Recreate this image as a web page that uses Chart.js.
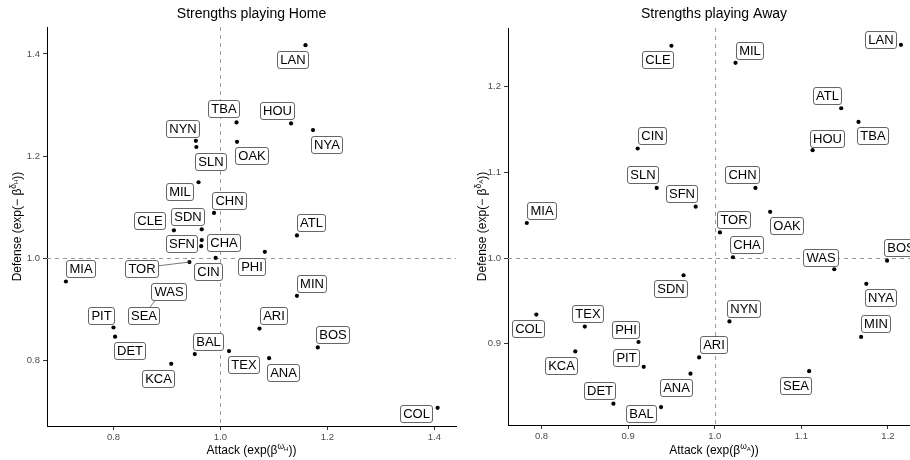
<!DOCTYPE html>
<html>
<head>
<meta charset="utf-8">
<script src="https://cdn.jsdelivr.net/npm/chart.js@4.4.1/dist/chart.umd.min.js"></script>
<style>
  html, body { margin: 0; padding: 0; background: #fff; }
  body { width: 910px; height: 460px; overflow: hidden; position: relative; }
  .panel { position: absolute; top: 0; }
</style>
</head>
<body>
<div class="panel" style="left:0"><canvas id="homeChart" width="460" height="460"></canvas></div>
<div class="panel" style="left:455px"><canvas id="awayChart" width="470" height="460"></canvas></div>
<script>
// teams, same order in every array below
const teams = ['ANA', 'ARI', 'ATL', 'BAL', 'BOS', 'CHA', 'CHN', 'CIN', 'CLE', 'COL',
  'DET', 'HOU', 'KCA', 'LAN', 'MIA', 'MIL', 'MIN', 'NYA', 'NYN', 'OAK',
  'PHI', 'PIT', 'SDN', 'SEA', 'SFN', 'SLN', 'TBA', 'TEX', 'TOR', 'WAS'];

// playing home
const homeAttack = [1.091, 1.073, 1.143, 0.952, 1.182, 0.965, 0.988, 0.991, 0.913, 1.406,
  0.803, 1.132, 0.908, 1.159, 0.711, 0.959, 1.143, 1.173, 0.954, 1.031,
  1.083, 0.800, 0.965, 0.888, 0.964, 0.955, 1.030, 1.016, 0.942, 0.916];
const homeDefense = [0.805, 0.863, 1.045, 0.813, 0.826, 1.036, 1.089, 1.001, 1.055, 0.708,
  0.847, 1.264, 0.794, 1.417, 0.955, 1.149, 0.927, 1.251, 1.230, 1.228,
  1.013, 0.865, 1.057, 0.932, 1.024, 1.218, 1.266, 0.819, 0.993, 0.948];

// playing away
const awayAttack = [0.972, 0.982, 1.146, 0.938, 1.199, 1.021, 1.047, 0.911, 0.950, 0.794,
  0.883, 1.113, 0.839, 1.215, 0.783, 1.024, 1.169, 1.175, 1.017, 1.064,
  0.912, 0.918, 0.964, 1.109, 0.978, 0.933, 1.166, 0.850, 1.006, 1.138];
const awayDefense = [0.865, 0.884, 1.175, 0.826, 0.997, 1.001, 1.082, 1.128, 1.248, 0.934,
  0.830, 1.126, 0.891, 1.249, 1.041, 1.228, 0.908, 0.970, 0.926, 1.054,
  0.902, 0.873, 0.980, 0.868, 1.060, 1.082, 1.159, 0.920, 1.030, 0.987];

const homeXTicks = [0.8, 1.0, 1.2, 1.4];
const homeYTicks = [0.8, 1.0, 1.2, 1.4];
const awayXTicks = [0.8, 0.9, 1.0, 1.1, 1.2];
const awayYTicks = [0.9, 1.0, 1.1, 1.2];

// label placement (repel layout), pixel offsets of the label box centre from its point
const homeLabelOffset = [[14.2, 13.7], [14.1, -13.6], [14.2, -13.6], [13.6, -13], [14.7, -12.8],
  [21.6, 2], [14.3, -12.9], [-7.7, 13.7], [-25, -10], [-21.2, 5.9],
  [14.7, 13.8], [-13.5, -13.6], [-13.4, 14.1], [-13.2, 14.2], [14.3, -13],
  [-19.2, 9.4], [14.2, -12.7], [14, 14], [-13.6, -13], [14.3, 13.8],
  [-13.7, 14.6], [-12.4, -12.3], [-14, -13.2], [-16.7, 22.3], [-19.9, -2.6],
  [14, 14.3], [-13.3, -13.8], [14.3, 13.7], [-47.8, 5.8], [-7, 6.3]];
const awayLabelOffset = [[-14, 14], [14.3, -13.2], [-13.7, -13], [-19.8, 6.5], [13.5, -13.7],
  [13.7, -12.7], [-14, -13.3], [13.9, -12.8], [-13.7, 14], [-7.9, 13.8],
  [-13.7, -12.9], [14.5, -11.9], [-14.2, 13.5], [-20.5, -5.3], [14.4, -12.5],
  [14.5, -13], [14.2, -13.1], [14.2, 13.7], [13.8, -12.8], [16.3, 13.6],
  [-13.2, -12.7], [-18.4, -9.5], [-13.5, 13.1], [-13.1, 14], [-14.2, -13.1],
  [-13.9, -13.3], [14, 13.5], [2.7, -13], [13.8, -12.7], [-13.7, -12.1]];

const FONT = "'Liberation Sans', Arial, sans-serif";

function drawRich(ctx, parts, x, y) {
  // parts centred on x, baseline y
  let total = 0;
  parts.forEach(p => {
    ctx.font = p.s + 'px ' + FONT;
    p.w = ctx.measureText(p.t).width;
    total += p.w;
  });
  let cx = x - total / 2;
  ctx.textAlign = 'left';
  ctx.textBaseline = 'alphabetic';
  parts.forEach(p => {
    ctx.font = p.s + 'px ' + FONT;
    ctx.fillText(p.t, cx, y + p.dy);
    cx += p.w;
  });
}

function roundRect(ctx, x, y, w, h, r) {
  ctx.beginPath();
  ctx.moveTo(x + r, y);
  ctx.lineTo(x + w - r, y);
  ctx.arcTo(x + w, y, x + w, y + r, r);
  ctx.lineTo(x + w, y + h - r);
  ctx.arcTo(x + w, y + h, x + w - r, y + h, r);
  ctx.lineTo(x + r, y + h);
  ctx.arcTo(x, y + h, x, y + h - r, r);
  ctx.lineTo(x, y + r);
  ctx.arcTo(x, y, x + r, y, r);
  ctx.closePath();
}

const panelPlugin = {
  id: 'panelDecor',
  beforeDatasetsDraw(chart, args, opts) {
    const ctx = chart.ctx, a = chart.chartArea;
    const xs = chart.scales.x, ys = chart.scales.y;
    ctx.save();
    ctx.strokeStyle = '#9a9a9a';
    ctx.lineWidth = 1;
    ctx.setLineDash([4, 4]);
    const px = Math.round(xs.getPixelForValue(1)) + 0.5;
    const py = Math.round(ys.getPixelForValue(1)) + 0.5;
    ctx.beginPath();
    ctx.moveTo(px, a.top); ctx.lineTo(px, a.bottom);
    ctx.moveTo(a.left, py); ctx.lineTo(a.right, py);
    ctx.stroke();
    ctx.restore();
  },
  afterDatasetsDraw(chart, args, opts) {
    const ctx = chart.ctx, a = chart.chartArea;
    const meta = chart.getDatasetMeta(0);
    const offs = opts.offsets;
    ctx.save();
    ctx.font = '13px ' + FONT;
    const boxes = meta.data.map((pt, i) => {
      const w = ctx.measureText(teams[i]).width + 5.4;
      const h = 16.6;
      const cx = pt.x + offs[i][0], cy = pt.y + offs[i][1];
      return { x: cx - w / 2, y: cy - h / 2, w, h, cx, cy, px: pt.x, py: pt.y, t: teams[i] };
    });
    // leader segments for labels pushed far from their point
    ctx.strokeStyle = '#555';
    ctx.lineWidth = 0.8;
    boxes.forEach(b => {
      const dx = Math.max(b.x - b.px, 0, b.px - (b.x + b.w));
      const dy = Math.max(b.y - b.py, 0, b.py - (b.y + b.h));
      if (Math.hypot(dx, dy) > 12) {
        ctx.beginPath();
        ctx.moveTo(b.cx, b.cy);
        ctx.lineTo(b.px, b.py);
        ctx.stroke();
      }
    });
    boxes.forEach(b => {
      const x = Math.round(b.x) + 0.5, y = Math.round(b.y) + 0.5;
      roundRect(ctx, x, y, Math.round(b.w), Math.round(b.h), 2.5);
      ctx.fillStyle = '#fff';
      ctx.fill();
      ctx.strokeStyle = '#555';
      ctx.lineWidth = 0.9;
      ctx.stroke();
      ctx.fillStyle = '#000';
      ctx.textAlign = 'center';
      ctx.textBaseline = 'middle';
      ctx.fillText(b.t, x + Math.round(b.w) / 2, y + Math.round(b.h) / 2 + 0.5);
    });
    // title and axis titles
    const mid = (a.left + a.right) / 2;
    const midY = (a.top + a.bottom) / 2;
    ctx.fillStyle = '#000';
    ctx.font = '14px ' + FONT;
    ctx.textAlign = 'center';
    ctx.textBaseline = 'middle';
    ctx.fillText(opts.title, mid, 14);
    drawRich(ctx, [
      { t: 'Attack (exp(\u03b2', s: 12, dy: 0 },
      { t: '\u03c9', s: 8.5, dy: -5 },
      { t: opts.side, s: 6, dy: -3.5 },
      { t: '))', s: 12, dy: 0 }
    ], mid, 454);
    ctx.save();
    ctx.translate(opts.yTitleX, midY);
    ctx.rotate(-Math.PI / 2);
    drawRich(ctx, [
      { t: 'Defense (exp(\u2212 \u03b2', s: 12, dy: 0 },
      { t: '\u03b4', s: 8.5, dy: -5 },
      { t: opts.side, s: 6, dy: -3.5 },
      { t: '))', s: 12, dy: 0 }
    ], 0, 4);
    ctx.restore();
    ctx.restore();
  }
};

function makePanel(canvasId, xs, ys, cfg) {
  const ctx = document.getElementById(canvasId).getContext('2d');
  return new Chart(ctx, {
    type: 'scatter',
    data: {
      datasets: [{
        data: xs.map((v, i) => ({ x: v, y: ys[i] })),
        backgroundColor: '#000',
        borderWidth: 0,
        pointRadius: 2.1,
      }]
    },
    options: {
      responsive: false,
      animation: false,
      devicePixelRatio: 1,
      layout: { padding: { left: 0, right: cfg.padRight, top: cfg.top, bottom: 0 } },
      plugins: {
        legend: { display: false },
        tooltip: { enabled: false },
        panelDecor: { title: cfg.title, side: cfg.side, offsets: cfg.offsets, yTitleX: cfg.yTitleX }
      },
      scales: {
        x: {
          type: 'linear',
          min: cfg.xMin, max: cfg.xMax,
          afterFit: s => { s.height = cfg.xAxisH; },
          afterBuildTicks: s => { s.ticks = cfg.xTicks.map(v => ({ value: v })); },
          grid: { drawOnChartArea: false, color: '#333', tickLength: 4 },
          border: { display: true, color: '#000', width: 1 },
          ticks: { color: '#4d4d4d', font: { family: FONT, size: 9.5 }, padding: 2, callback: v => v.toFixed(1) }
        },
        y: {
          type: 'linear',
          min: cfg.yMin, max: cfg.yMax,
          afterFit: s => { s.width = cfg.yAxisW; },
          afterBuildTicks: s => { s.ticks = cfg.yTicks.map(v => ({ value: v })); },
          grid: { drawOnChartArea: false, color: '#333', tickLength: 4 },
          border: { display: true, color: '#000', width: 1 },
          ticks: { color: '#4d4d4d', font: { family: FONT, size: 9.5 }, padding: 3, callback: v => v.toFixed(1) }
        }
      }
    },
    plugins: [panelPlugin]
  });
}

makePanel('homeChart', homeAttack, homeDefense, {
  title: 'Strengths playing Home', side: 'H', offsets: homeLabelOffset,
  xMin: 0.6757, xMax: 1.4404, yMin: 0.6724, yMax: 1.4526,
  xTicks: homeXTicks, yTicks: homeYTicks,
  yAxisW: 47, xAxisH: 34, padRight: 2, top: 27, yTitleX: 17
});

makePanel('awayChart', awayAttack, awayDefense, {
  title: 'Strengths playing Away', side: 'A', offsets: awayLabelOffset,
  xMin: 0.7613, xMax: 1.237, yMin: 0.8051, yMax: 1.2687,
  xTicks: awayXTicks, yTicks: awayYTicks,
  yAxisW: 53, xAxisH: 35, padRight: 5, top: 28, yTitleX: 27
});
</script>
</body>
</html>
